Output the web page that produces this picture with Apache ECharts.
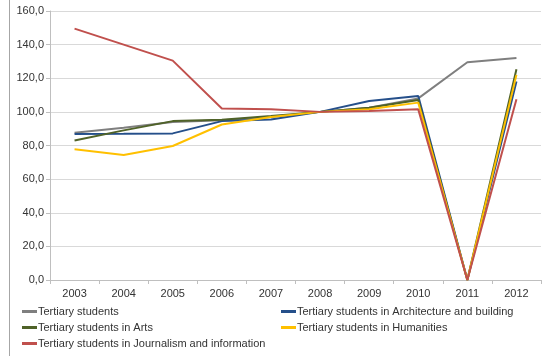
<!DOCTYPE html>
<html>
<head>
<meta charset="utf-8">
<script src="https://cdn.jsdelivr.net/npm/echarts@6/dist/echarts.min.js"></script>
<style>
  html, body { margin: 0; padding: 0; background: #fff; }
  #chart { width: 544px; height: 356px; }
</style>
</head>
<body>
<div id="chart"></div>
<script>
const years = ['2003', '2004', '2005', '2006', '2007', '2008', '2009', '2010', '2011', '2012'];

const tertiary = [87.6, 90.5, 94, 95, 97, 100, 102.5, 108, 129.5, 132];
const architecture = [86.9, 87, 87.2, 94.5, 95.5, 100, 106.5, 109.5, 0, 118];
const arts = [83, 89, 94.5, 95.3, 97.5, 100, 102.5, 107, 0, 125.3];
const humanities = [77.7, 74.4, 79.7, 92.5, 97, 100, 101.5, 105.5, 0, 122];
const journalism = [149.5, 140, 130.5, 102, 101.5, 100, 100.5, 101.5, 0, 107.5];

const names = [
  'Tertiary students',
  'Tertiary students in Architecture and building',
  'Tertiary students in Arts',
  'Tertiary students in Humanities',
  'Tertiary students in Journalism and information'
];
const colors = ['#7f7f7f', '#254f8a', '#4f6228', '#ffc000', '#c0504d'];
const values = [tertiary, architecture, arts, humanities, journalism];

const chart = echarts.init(document.getElementById('chart'));

const legendBase = {
  orient: 'vertical',
  height: 80,
  padding: 0,
  icon: 'rect',
  itemWidth: 15,
  itemHeight: 3,
  itemGap: 5,
  textStyle: { fontFamily: 'Liberation Sans', fontSize: 11, color: '#333', padding: [0, 0, 0, -4] }
};

chart.setOption({
  animation: false,
  color: colors,
  grid: { left: 50, right: 3, top: 11, bottom: 76 },
  graphic: [{
    type: 'line',
    shape: { x1: 9.5, y1: 0, x2: 9.5, y2: 356 },
    style: { stroke: '#a6a6a6', lineWidth: 1 }
  }],
  legend: [
    Object.assign({ left: 22, top: 306, data: [names[0], names[2], names[4]] }, legendBase),
    Object.assign({ left: 281, top: 306, data: [names[1], names[3]] }, legendBase)
  ],
  xAxis: {
    type: 'category',
    data: years,
    boundaryGap: true,
    axisLine: { lineStyle: { color: '#bfbfbf' } },
    axisTick: { show: true, length: 4, lineStyle: { color: '#bfbfbf' } },
    axisLabel: { fontFamily: 'Liberation Sans', fontSize: 11, color: '#333', margin: 8 }
  },
  yAxis: {
    type: 'value',
    min: 0,
    max: 160,
    interval: 20,
    axisLine: { show: true, lineStyle: { color: '#bfbfbf' } },
    axisTick: { show: true, length: 4, lineStyle: { color: '#bfbfbf' } },
    splitLine: { lineStyle: { color: '#d9d9d9' } },
    axisLabel: {
      fontFamily: 'Liberation Sans',
      fontSize: 11,
      color: '#333',
      margin: 6,
      formatter: v => v.toFixed(1).replace('.', ',')
    }
  },
  series: names.map((n, i) => ({
    name: n,
    type: 'line',
    data: values[i],
    showSymbol: false,
    symbol: 'none',
    lineStyle: { width: 2, color: colors[i] }
  }))
});
</script>
</body>
</html>
